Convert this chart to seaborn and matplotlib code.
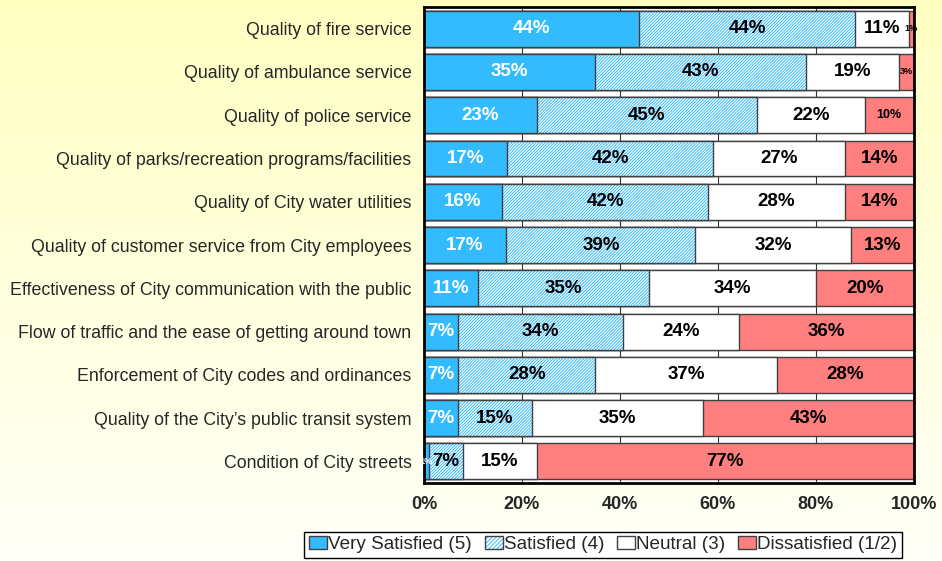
import numpy as np
import pandas as pd
import matplotlib
matplotlib.use("Agg")
import matplotlib.pyplot as plt
from matplotlib.patches import Patch
from matplotlib.legend_handler import HandlerTuple
import seaborn as sns

items = [
    "Quality of fire service",
    "Quality of ambulance service",
    "Quality of police service",
    "Quality of parks/recreation programs/facilities",
    "Quality of City water utilities",
    "Quality of customer service from City employees",
    "Effectiveness of City communication with the public",
    "Flow of traffic and the ease of getting around town",
    "Enforcement of City codes and ordinances",
    "Quality of the City\u2019s public transit system",
    "Condition of City streets",
]
very_satisfied = [44, 35, 23, 17, 16, 17, 11, 7, 7, 7, 1]
satisfied = [44, 43, 45, 42, 42, 39, 35, 34, 28, 15, 7]
neutral = [11, 19, 22, 27, 28, 32, 34, 24, 37, 35, 15]
dissatisfied = [1, 3, 10, 14, 14, 13, 20, 36, 28, 43, 77]
series = ["Very Satisfied (5)", "Satisfied (4)", "Neutral (3)", "Dissatisfied (1/2)"]
xticks = [0, 20, 40, 60, 80, 100]

BLUE = "#33BBFF"
RED = "#FF7F7F"
EDGE = "#404040"
HATCH = "/" * 11

df = pd.DataFrame(
    dict(zip(series, [very_satisfied, satisfied, neutral, dissatisfied])), index=items
)
share = df.div(df.sum(axis=1), axis=0) * 100
cum = share.cumsum(axis=1)

sns.set_style("white")
plt.rcParams["font.family"] = ["Liberation Sans", "DejaVu Sans"]
plt.rcParams["hatch.linewidth"] = 0.7

fig = plt.figure(figsize=(9.42, 5.61), dpi=100)

# pale yellow gradient behind everything
bg = fig.add_axes([0, 0, 1, 1], zorder=-1)
top = np.array([255, 255, 194]) / 255
bottom = np.array([255, 255, 248]) / 255
t = np.linspace(0, 1, 256)[:, None, None]
grad = top * (1 - t) + bottom * t
bg.imshow(grad, aspect="auto", extent=(0, 1, 0, 1))
bg.axis("off")

ax = fig.add_axes([0.450, 0.139, 0.520, 0.8485])
ax.set_facecolor("white")

bw = 0.83
common = dict(width=bw, errorbar=None, saturation=1, ax=ax)
# stacked by overlaying cumulative totals, rightmost first
sns.barplot(x=cum[series[3]].values, y=items, color=RED, edgecolor=EDGE,
            linewidth=1, **common)
sns.barplot(x=cum[series[2]].values, y=items, color="white", edgecolor=EDGE,
            linewidth=1, **common)
sns.barplot(x=cum[series[1]].values, y=items, color="white", edgecolor=BLUE,
            hatch=HATCH, linewidth=0, **common)
sns.barplot(x=cum[series[1]].values, y=items, fill=False, color=EDGE,
            linewidth=1, **common)
sns.barplot(x=cum[series[0]].values, y=items, color=BLUE, edgecolor=EDGE,
            linewidth=1, **common)

# value labels
for i, item in enumerate(items):
    for j, s in enumerate(series):
        val = df.loc[item, s]
        xc = cum.loc[item, s] - share.loc[item, s] / 2
        if val <= 3:
            fs = 6.5
        elif val == 10:
            fs = 9
        else:
            fs = 13.5
        ax.text(xc, i, f"{val}%", ha="center", va="center", fontsize=fs,
                fontweight="bold", color="white" if j == 0 else "black")

ax.set_xlim(0, 100)
ax.set_xticks(xticks)
ax.set_xticklabels([f"{v}%" for v in xticks], fontsize=13, fontweight="bold")
ax.tick_params(axis="x", length=0, pad=9)
ax.tick_params(axis="y", length=0, pad=9, labelsize=12.75)
ax.set_xlabel("")
ax.set_ylabel("")
ax.grid(axis="x", color="#333333", linewidth=0.8)
ax.set_axisbelow(True)
for sp in ax.spines.values():
    sp.set_visible(True)
    sp.set_color("black")
    sp.set_linewidth(2)

handles = [
    Patch(facecolor=BLUE, edgecolor=EDGE),
    (Patch(facecolor="white", edgecolor=BLUE, hatch="/" * 8, linewidth=0),
     Patch(fill=False, edgecolor=EDGE)),
    Patch(facecolor="white", edgecolor=EDGE),
    Patch(facecolor=RED, edgecolor=EDGE),
]
leg = fig.legend(handles, series, loc="lower left", bbox_to_anchor=(0.323, 0.005),
                 borderaxespad=0, ncol=4, fontsize=13.6, frameon=True,
                 fancybox=False, edgecolor="black", facecolor="white",
                 framealpha=1, handlelength=0.95, handleheight=0.7,
                 handletextpad=0.05, columnspacing=0.7, borderpad=0.25,
                 handler_map={tuple: HandlerTuple(ndivide=1)})
leg.get_frame().set_linewidth(1)

fig.savefig("out.png", dpi=100)
